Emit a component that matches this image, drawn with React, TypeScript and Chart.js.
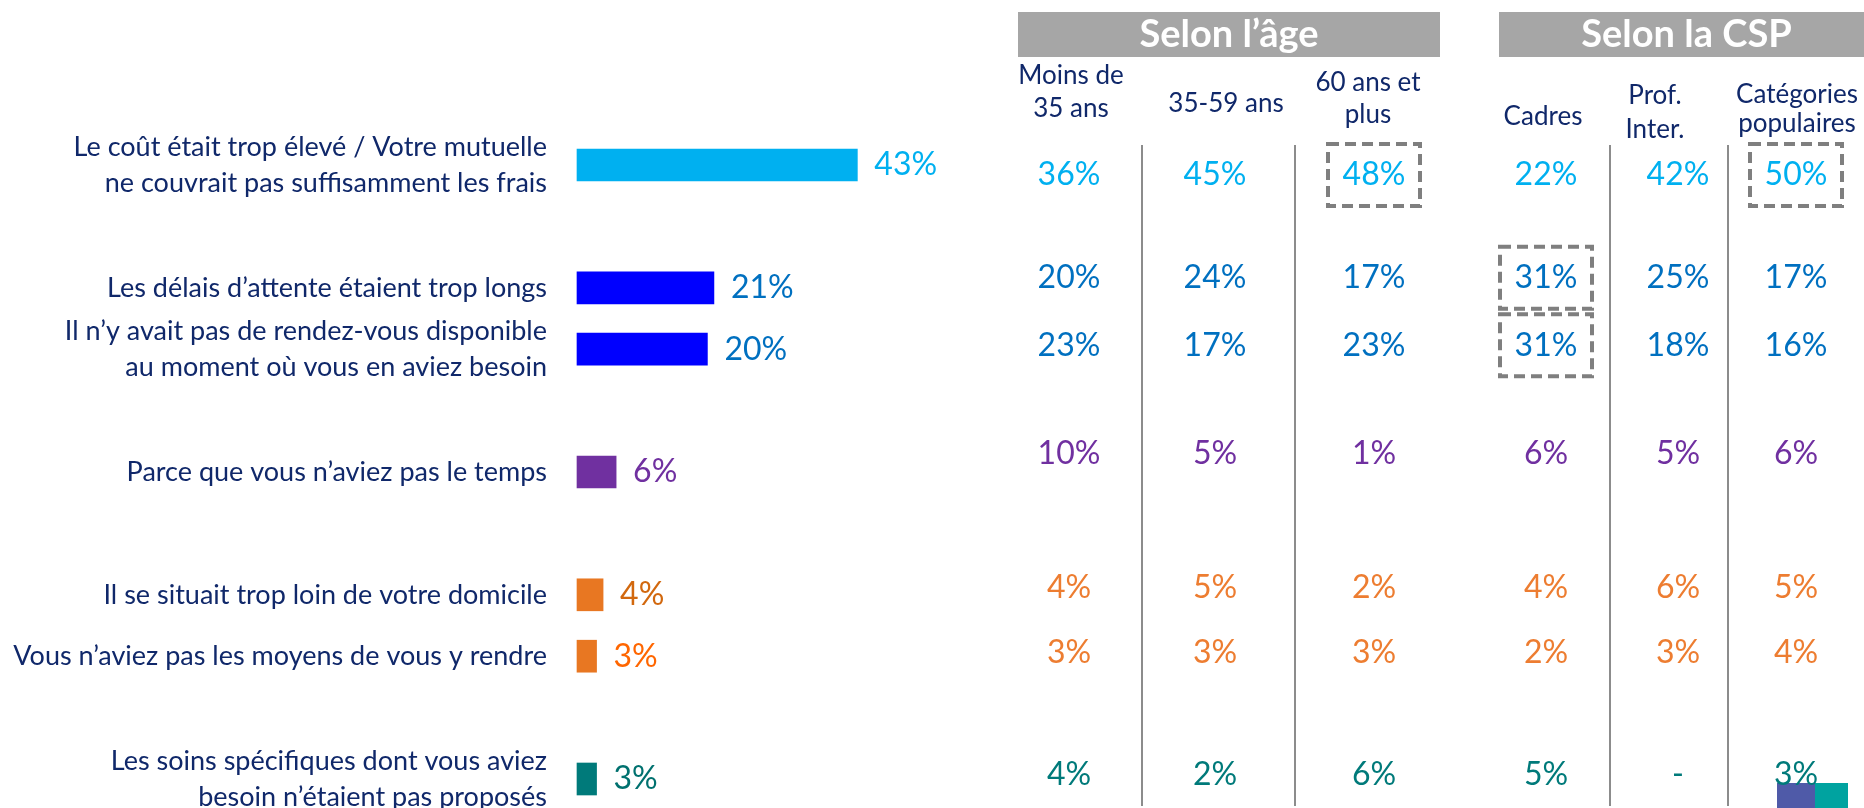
import React, { useEffect, useRef } from "react";
import { Chart, registerables } from "chart.js";

Chart.register(...registerables);

// ---- Data ----
const categories: (string | string[])[] = [
  ["Le coût était trop élevé / Votre mutuelle", "ne couvrait pas suffisamment les frais"],
  "",
  "Les délais d’attente étaient trop longs",
  ["Il n’y avait pas de rendez-vous disponible", "au moment où vous en aviez besoin"],
  "",
  "Parce que vous n’aviez pas le temps",
  "",
  "Il se situait trop loin de votre domicile",
  "Vous n’aviez pas les moyens de vous y rendre",
  "",
  ["Les soins spécifiques dont vous aviez", "besoin n’étaient pas proposés"],
];
const totalValues: (number | null)[] = [43, null, 21, 20, null, 6, null, 4, 3, null, 3];
const barColors = ["#00B0F0", "", "#0000FF", "#0000FF", "", "#7030A0", "", "#E87722", "#E87722", "", "#007A7A"];
const barLabelColors = ["#00B0F0", "", "#0070C0", "#0070C0", "", "#7030A0", "", "#D2680E", "#FF6600", "", "#00716F"];

const groupTitles = ["Selon l’âge", "Selon la CSP"];
const columnHeaders: string[][] = [
  ["Moins de", "35 ans"],
  ["35-59 ans"],
  ["60 ans et", "plus"],
  ["Cadres"],
  ["Prof.", "Inter."],
  ["Catégories", "populaires"],
];
const moins35 = [36, 20, 23, 10, 4, 3, 4];
const ans35a59 = [45, 24, 17, 5, 5, 3, 2];
const ans60plus = [48, 17, 23, 1, 2, 3, 6];
const cadres = [22, 31, 31, 6, 4, 2, 5];
const profInter: (number | null)[] = [42, 25, 18, 5, 6, 3, null];
const populaires = [50, 17, 16, 6, 5, 4, 3];
const tableColumns = [moins35, ans35a59, ans60plus, cadres, profInter, populaires];
const tableRowColors = ["#00B0F0", "#0070C0", "#0070C0", "#7030A0", "#ED7D31", "#ED7D31", "#007A7A"];
// [column, row] of cells framed by a dashed box
const highlighted: [number, number][] = [[2, 0], [5, 0], [3, 1], [3, 2]];

// ---- Style / layout ----
const FONT = "Lato, 'Open Sans', sans-serif";
const NAVY = "#10286A";
const colX = [1069, 1215, 1374, 1546, 1678, 1796];
const headerX = [1071, 1226, 1368, 1543, 1655, 1797];
const headerY = [92, 104, 99, 117, 113, 109];
const headerLineGap = [33, 33, 32, 33, 34, 29];
const tableRowNudge = [10, -10, -4, -18, -7, -4, -4]; // px offset of table text rows vs bar rows
const separatorsX = [1142, 1295, 1610, 1728];
const groupBoxes = [
  { x0: 1018, x1: 1440 },
  { x0: 1499, x1: 1864 },
];

const valueLabelsPlugin = {
  id: "valueLabels",
  afterDatasetsDraw(chart: any) {
    const ctx = chart.ctx;
    const meta = chart.getDatasetMeta(0);
    ctx.save();
    ctx.font = `32px ${FONT}`;
    ctx.textAlign = "left";
    ctx.textBaseline = "middle";
    meta.data.forEach((bar: any, i: number) => {
      const v = totalValues[i];
      if (v === null) return;
      ctx.fillStyle = barLabelColors[i];
      ctx.fillText(`${v}%`, bar.x + 17, bar.y);
    });
    ctx.restore();
  },
};

const tablePlugin = {
  id: "sideTable",
  afterDraw(chart: any) {
    const ctx = chart.ctx;
    const yScale = chart.scales.y;
    const rowSlots: number[] = [];
    categories.forEach((c, i) => {
      if (c !== "") rowSlots.push(i);
    });
    const rowY = (r: number) => yScale.getPixelForValue(rowSlots[r]) + tableRowNudge[r];
    ctx.save();
    // group title boxes
    groupBoxes.forEach((b, i) => {
      ctx.fillStyle = "#A6A6A6";
      ctx.fillRect(b.x0, 12, b.x1 - b.x0, 45);
      ctx.fillStyle = "#FFFFFF";
      ctx.font = `bold 38px ${FONT}`;
      ctx.textAlign = "center";
      ctx.textBaseline = "middle";
      ctx.fillText(groupTitles[i], (b.x0 + b.x1) / 2 + (i === 1 ? 5 : 0), 35);
    });
    // column headers
    ctx.fillStyle = NAVY;
    ctx.font = `26px ${FONT}`;
    columnHeaders.forEach((lines, c) => {
      const lh = headerLineGap[c];
      const y0 = headerY[c] - ((lines.length - 1) * lh) / 2;
      lines.forEach((l, k) => ctx.fillText(l, headerX[c], y0 + k * lh));
    });
    // separators
    ctx.strokeStyle = "#8C8C8C";
    ctx.lineWidth = 2;
    separatorsX.forEach((x) => {
      ctx.beginPath();
      ctx.moveTo(x, 145);
      ctx.lineTo(x, 806);
      ctx.stroke();
    });
    // logo corner
    ctx.fillStyle = "#4F5AA8";
    ctx.fillRect(1777, 783, 38, 25);
    ctx.fillStyle = "#00A3A0";
    ctx.fillRect(1815, 783, 33, 25);
    // values
    ctx.font = `32px ${FONT}`;
    ctx.textAlign = "center";
    ctx.textBaseline = "middle";
    tableColumns.forEach((col, c) => {
      col.forEach((v, r) => {
        ctx.fillStyle = tableRowColors[r];
        ctx.fillText(v === null ? "-" : `${v}%`, colX[c], rowY(r));
      });
    });
    // dashed highlight boxes
    ctx.strokeStyle = "#7F7F7F";
    ctx.lineWidth = 4;
    ctx.setLineDash([11, 6]);
    highlighted.forEach(([c, r]) => {
      ctx.strokeRect(colX[c] - 46, rowY(r) - 31, 92, 62);
    });
    ctx.restore();
  },
};

export default function App() {
  const canvasRef = useRef<HTMLCanvasElement | null>(null);

  useEffect(() => {
    const canvas = canvasRef.current;
    if (!canvas) return;
    const chart = new Chart(canvas, {
      type: "bar",
      data: {
        labels: categories as any,
        datasets: [
          {
            data: totalValues as any,
            backgroundColor: barColors,
            barThickness: 32,
            clip: false as any,
          },
        ],
      },
      options: {
        indexAxis: "y",
        responsive: false,
        animation: false,
        events: [],
        layout: { padding: { left: 0, right: 635, top: 165, bottom: 29 } },
        plugins: {
          legend: { display: false },
          tooltip: { enabled: false },
        },
        scales: {
          x: { display: false, min: 0, max: 100 },
          y: {
            offset: false,
            grid: { display: false, drawTicks: false },
            border: { display: false },
            ticks: {
              autoSkip: false,
              padding: 30,
              color: NAVY,
              font: { family: FONT, size: 27, lineHeight: 1.33 },
            },
            afterFit: (s: any) => {
              s.width = 577;
              s.paddingTop = 0;
              s.paddingBottom = 0;
            },
          },
        },
      },
      plugins: [valueLabelsPlugin, tablePlugin],
    });
    return () => chart.destroy();
  }, []);

  return (
    <div
      style={{
        position: "fixed",
        left: 0,
        top: 0,
        width: 1864,
        height: 808,
        overflow: "hidden",
        background: "#ffffff",
      }}
    >
      <canvas ref={canvasRef} width={1864} height={808} style={{ display: "block" }} />
    </div>
  );
}
